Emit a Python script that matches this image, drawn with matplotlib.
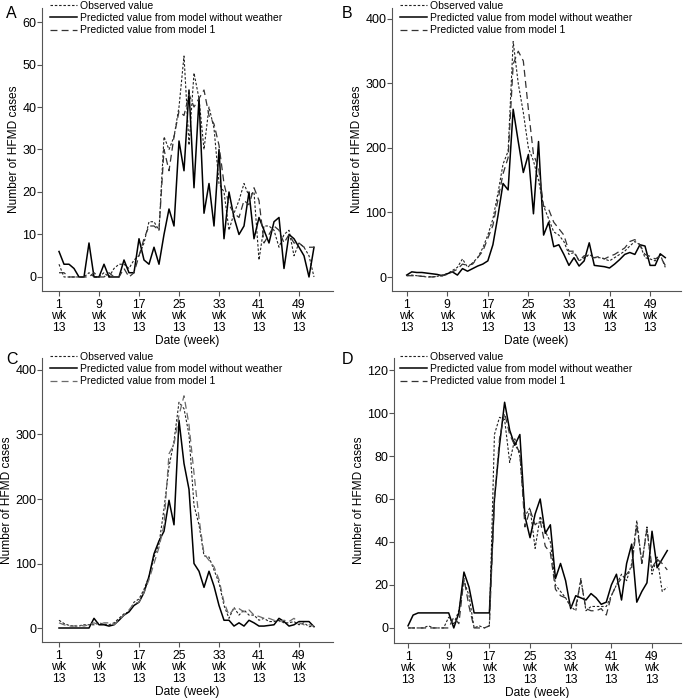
import matplotlib
matplotlib.use("Agg")
import matplotlib.pyplot as plt
import numpy as np

plt.rcParams['font.family'] = ['Liberation Sans', 'DejaVu Sans']
plt.rcParams['lines.scale_dashes'] = False

W, H = 683, 698

weeks = np.arange(1, 53)
tick_weeks = [1, 9, 17, 25, 33, 41, 49]
tick_labels = [f"{w}\nwk\n13" for w in tick_weeks]
series_names = ["Observed value",
                "Predicted value from model without weather",
                "Predicted value from model 1"]

# panel A
A_obs = [3, 0, 0, 0, 0, 0, 1, 0, 0, 1, 0, 2, 3, 3, 2, 4, 5, 8, 13, 13,
         11, 33, 30, 33, 40, 52, 31, 48, 42, 30, 40, 35, 22, 20, 11, 15, 18, 22, 19, 20,
         4, 12, 12, 11, 7, 10, 11, 5, 8, 7, 5, 0]
A_pred0 = [6, 3, 3, 2, 0, 0, 8, 0, 0, 3, 0, 0, 0, 4, 1, 1, 9, 4, 3, 7,
           3, 10, 16, 12, 32, 25, 44, 21, 42, 15, 22, 12, 30, 9, 20, 14, 10, 12, 20, 9,
           14, 11, 8, 13, 14, 2, 10, 9, 7, 5, 0, 7]
A_pred1 = [1, 1, 0, 0, 0, 0, 0, 1, 0, 0, 1, 0, 0, 2, 0, 1, 5, 9, 12, 12,
           11, 30, 25, 33, 39, 38, 43, 40, 42, 44, 38, 36, 31, 22, 17, 15, 14, 18, 17, 21,
           18, 8, 10, 12, 11, 8, 10, 8, 8, 7, 7, 7]

# panel B
B_obs = [2, 3, 2, 1, 0, 0, 1, 3, 5, 10, 15, 28, 15, 22, 30, 45, 65, 90, 130, 175,
         195, 365, 300, 255, 200, 180, 150, 110, 90, 70, 65, 55, 35, 38, 25, 30, 35, 30, 30, 28,
         25, 30, 35, 40, 48, 55, 50, 30, 28, 25, 35, 15]
B_pred0 = [3, 8, 7, 7, 6, 5, 4, 2, 5, 8, 3, 13, 9, 13, 17, 20, 25, 50, 95, 145,
           135, 260, 210, 162, 190, 98, 210, 65, 85, 47, 50, 35, 18, 30, 17, 25, 53, 18, 17, 16,
           14, 20, 27, 35, 38, 35, 50, 48, 18, 18, 36, 30]
B_pred1 = [2, 2, 2, 1, 1, 0, 1, 2, 4, 8, 12, 20, 18, 20, 30, 40, 60, 80, 120, 160,
           185, 330, 350, 335, 260, 190, 170, 110, 105, 85, 75, 65, 40, 40, 25, 33, 32, 30, 32, 28,
           32, 35, 40, 45, 55, 58, 50, 35, 32, 28, 32, 18]

# panel C
C_obs = [12, 7, 4, 3, 3, 5, 5, 5, 8, 6, 5, 8, 15, 22, 25, 40, 45, 60, 80, 110,
         130, 185, 250, 290, 350, 340, 300, 190, 160, 112, 110, 90, 70, 35, 15, 32, 20, 28, 20, 20,
         12, 15, 10, 10, 12, 8, 8, 10, 5, 8, 2, 3]
C_pred0 = [0, 0, 0, 0, 0, 0, 0, 15, 5, 5, 3, 5, 12, 20, 25, 35, 40, 55, 80, 115,
           135, 150, 198, 160, 322, 255, 215, 100, 88, 63, 88, 65, 35, 12, 12, 3, 8, 3, 12, 8,
           3, 3, 4, 5, 15, 10, 3, 5, 10, 10, 10, 2]
C_pred1 = [8, 5, 3, 3, 5, 3, 5, 8, 5, 8, 8, 5, 12, 20, 28, 38, 40, 55, 75, 100,
           125, 160, 270, 285, 330, 360, 315, 240, 170, 115, 105, 95, 75, 40, 20, 30, 30, 25, 28, 20,
           18, 15, 15, 12, 10, 12, 10, 15, 8, 5, 5, 3]

# panel D
D_obs = [0, 0, 0, 0, 1, 0, 0, 0, 5, 2, 8, 22, 15, 0, 1, 0, 1, 90, 98, 97,
         77, 88, 80, 52, 56, 37, 52, 45, 40, 20, 17, 14, 10, 8, 23, 8, 10, 10, 10, 10,
         15, 20, 25, 22, 30, 50, 30, 47, 25, 33, 17, 19]
D_pred0 = [1, 6, 7, 7, 7, 7, 7, 7, 7, 0, 7, 26, 19, 7, 7, 7, 7, 60, 85, 105,
           92, 85, 90, 52, 42, 53, 60, 44, 48, 23, 30, 22, 9, 15, 14, 13, 16, 14, 11, 12,
           20, 25, 13, 30, 39, 12, 17, 21, 45, 28, 32, 36]
D_pred1 = [0, 0, 0, 0, 0, 0, 0, 0, 0, 5, 2, 23, 10, 0, 0, 0, 1, 60, 88, 100,
           90, 85, 82, 47, 55, 48, 50, 38, 35, 18, 15, 14, 10, 10, 22, 9, 8, 8, 9, 6,
           15, 20, 23, 25, 28, 48, 30, 46, 28, 32, 30, 27]

# layout in pixels: letter, box (left, top, right, bottom), xlim, ylim, yticks, legend anchor, dash colour
panels = [
    ("A", (42, 8, 333, 291), (-2.4, 55.8), (-3.3, 63.3), np.arange(0, 61, 10), (50, 1), '#333333',
     A_obs, A_pred0, A_pred1, (6, 14)),
    ("B", (392, 8, 681, 291), (-1.9, 55.1), (-21.7, 417), np.arange(0, 401, 100), (400, 1), '#333333',
     B_obs, B_pred0, B_pred1, (342, 14)),
    ("C", (42, 358, 333, 642), (-2.4, 55.8), (-21.7, 418.6), np.arange(0, 401, 100), (50, 352), '#6a6a6a',
     C_obs, C_pred0, C_pred1, (6, 360)),
    ("D", (394, 358, 681, 643), (-1.76, 54.7), (-7.0, 125.6), np.arange(0, 121, 20), (400, 352), '#333333',
     D_obs, D_pred0, D_pred1, (342, 360)),
]

axis_col = '#555555'
fig = plt.figure(figsize=(W / 100, H / 100), dpi=100)

for letter, box, xlim, ylim, yticks, leg_xy, dash_col, obs, p0, p1, lab_xy in panels:
    l, t, r, b = box
    ax = fig.add_axes([l / W, 1 - b / H, (r - l) / W, (b - t) / H])
    h_obs, = ax.plot(weeks, obs, color='#222222', lw=0.8, dashes=(1.8, 1.3))
    h_p0, = ax.plot(weeks, p0, color='black', lw=1.1)
    h_p1, = ax.plot(weeks, p1, color=dash_col, lw=0.9, dashes=(5, 3))
    ax.set_xlim(xlim)
    ax.set_ylim(ylim)
    ax.set_xticks(tick_weeks)
    ax.set_xticklabels(tick_labels, fontsize=8.8, linespacing=0.95)
    ax.set_yticks(yticks)
    ax.tick_params(axis='y', labelsize=9, length=3.5, pad=0.5, color=axis_col, width=0.8)
    ax.tick_params(axis='x', length=3.5, pad=2, color=axis_col, width=0.8)
    for s in ['top', 'right']:
        ax.spines[s].set_visible(False)
    for s in ['left', 'bottom']:
        ax.spines[s].set_color(axis_col)
        ax.spines[s].set_linewidth(0.8)
    ax.set_xlabel("Date (week)", fontsize=8.6, labelpad=1)
    ax.set_ylabel("Number of HFMD cases", fontsize=8.6, labelpad=2)
    ax.legend([h_obs, h_p0, h_p1], series_names, loc='upper left',
              bbox_to_anchor=(leg_xy[0] / W, 1 - leg_xy[1] / H),
              bbox_transform=fig.transFigure, frameon=False, fontsize=7.5,
              handlelength=2.6, handletextpad=0.25, labelspacing=0.2,
              borderpad=0, borderaxespad=0)
    fig.text(lab_xy[0] / W, 1 - lab_xy[1] / H, letter, fontsize=11.5,
             ha='left', va='center')

fig.savefig("out.png", dpi=100)
